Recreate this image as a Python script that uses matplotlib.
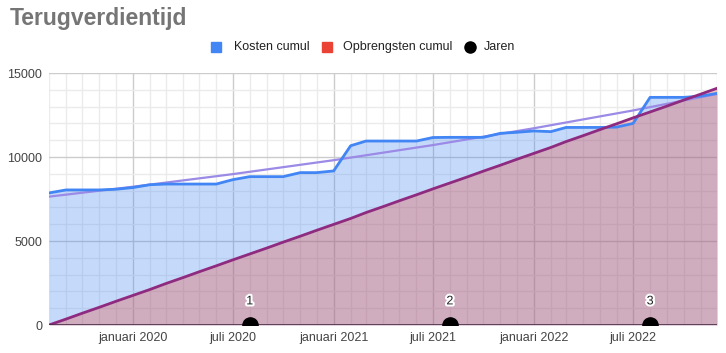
import numpy as np
import pandas as pd
import matplotlib
matplotlib.use("Agg")
import matplotlib.pyplot as plt
import matplotlib.dates as mdates
from matplotlib.lines import Line2D
from matplotlib.patches import Rectangle
import matplotlib.patheffects as pe

plt.rcParams['font.family'] = ['Liberation Sans', 'DejaVu Sans']

# maanden aug 2019 t/m dec 2022
maanden = pd.date_range("2019-08-01", "2022-12-01", freq="MS")

kosten_cumul = [7860, 8040, 8040, 8040, 8080,
                8180, 8350, 8390, 8390, 8390, 8390, 8650, 8830, 8830, 8830, 9070, 9070,
                9170, 10670, 10950, 10950, 10950, 10950, 11160, 11170, 11170, 11170, 11410, 11470,
                11550, 11510, 11760, 11760, 11760, 11780, 12000, 13550, 13550, 13550, 13620, 13790]

opbrengsten_cumul = [0, 352, 705, 1057, 1409, 1761, 2114, 2466, 2818, 3170,
                     3523, 3875, 4227, 4579, 4932, 5284, 5636, 5988, 6341, 6693,
                     7045, 7397, 7750, 8102, 8454, 8806, 9159, 9511, 9863, 10215,
                     10568, 10920, 11272, 11624, 11977, 12329, 12681, 13033, 13386, 13738,
                     14090]

trend_datum = pd.to_datetime(["2019-08-01", "2020-01-01", "2020-07-01", "2021-01-01",
                              "2021-07-01", "2022-01-01", "2022-07-01", "2022-12-01"])
trend_waarde = [7640, 8230, 8980, 9810, 10710, 11710, 12770, 13750]

jaren_datum = pd.to_datetime(["2020-08-01", "2021-08-01", "2022-08-01"])
jaren_waarde = [0, 0, 0]
jaren_label = ["1", "2", "3"]

xtick_datum = pd.to_datetime(["2020-01-01", "2020-07-01", "2021-01-01",
                              "2021-07-01", "2022-01-01", "2022-07-01"])
xtick_label = ["januari 2020", "juli 2020", "januari 2021",
               "juli 2021", "januari 2022", "juli 2022"]

blauw = "#4285F4"
rood = "#EA4335"
paars = "#8E2A7F"
trend_kleur = "#9B8AE6"

fig = plt.figure(figsize=(7.26, 3.53), dpi=100)
ax = fig.add_axes([49/726, 28/353, 668/726, 252/353])

x = mdates.date2num(maanden)

# rasterlijnen
for d in maanden:
    xi = mdates.date2num(d)
    major = d.month in (1, 7)
    ax.axvline(xi, color="#cccccc" if major else "#ebebeb", lw=1, zorder=0)
for v in range(0, 15001, 1000):
    ax.axhline(v, color="#cccccc" if v % 5000 == 0 else "#ebebeb", lw=1, zorder=0)

# vlakken
ax.fill_between(x, 0, kosten_cumul, color=blauw, alpha=0.3, lw=0, zorder=1)
ax.fill_between(x, 0, opbrengsten_cumul, color=rood, alpha=0.3, lw=0, zorder=2)

ax.plot(mdates.date2num(trend_datum), trend_waarde, color=trend_kleur, lw=1.6, zorder=3)
ax.plot(x, kosten_cumul, color=blauw, lw=2, zorder=4)
ax.plot(x, opbrengsten_cumul, color=paars, lw=2, zorder=5)

ax.axhline(0, color="#4a2f48", lw=1.2, zorder=6)

# jaren
ax.scatter(mdates.date2num(jaren_datum), jaren_waarde, s=120, color="black", zorder=7)
for d, lab in zip(jaren_datum, jaren_label):
    ax.annotate(lab, (mdates.date2num(d), 0), xytext=(0, 17), textcoords="offset points",
                ha="center", va="center", fontsize=9, color="#222222", zorder=8,
                path_effects=[pe.withStroke(linewidth=3, foreground="white")])

ax.set_xlim(x[0], x[-1])
ax.set_ylim(0, 15000)
ax.set_yticks([0, 5000, 10000, 15000])
ax.set_yticklabels(["0", "5000", "10000", "15000"])
ax.set_xticks(mdates.date2num(xtick_datum))
ax.set_xticklabels(xtick_label)
ax.tick_params(length=0, labelsize=9, labelcolor="#444444")
ax.tick_params(axis="y", pad=5)
ax.tick_params(axis="x", pad=5)
for s in ax.spines.values():
    s.set_visible(False)

# titel
fig.text(10/726, 1 - 19/353, "Terugverdientijd", fontsize=16.5, fontweight="bold",
         color="#757575", ha="left", va="center")

# legenda
ly = 1 - 47/353
fig.add_artist(Rectangle((211/726, ly - 5/353), 10/726, 10/353, color=blauw, transform=fig.transFigure))
fig.text(234/726, ly, "Kosten cumul", fontsize=9, color="#222222", va="center")
fig.add_artist(Rectangle((322/726, ly - 5/353), 10/726, 10/353, color=rood, transform=fig.transFigure))
fig.text(343/726, ly, "Opbrengsten cumul", fontsize=9, color="#222222", va="center")
fig.add_artist(Line2D([470/726], [ly], marker="o", markersize=8, color="black",
                      transform=fig.transFigure))
fig.text(484/726, ly, "Jaren", fontsize=9, color="#222222", va="center")

fig.savefig("out.png", dpi=100)
